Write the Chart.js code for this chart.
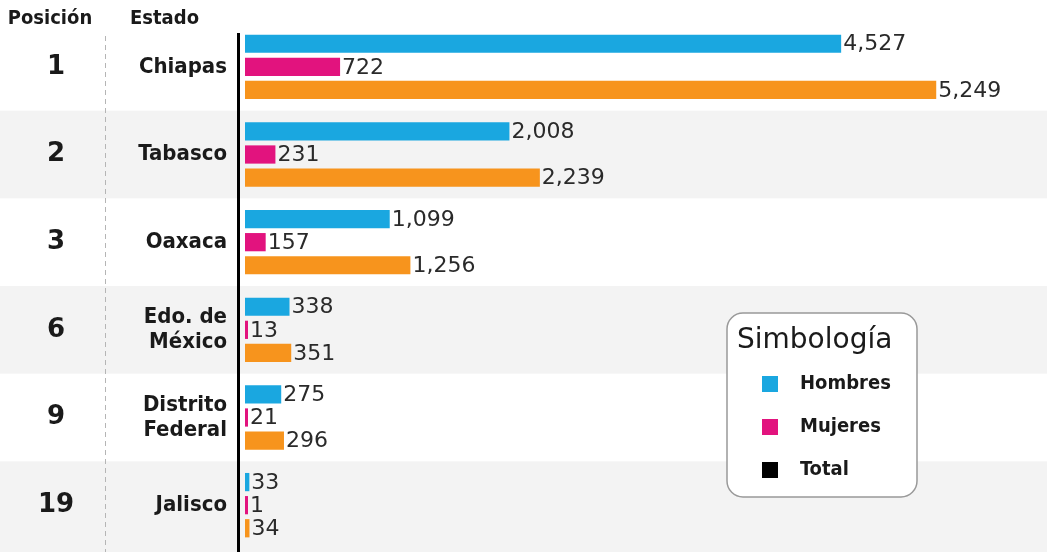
<!DOCTYPE html>
<html>
<head>
<meta charset="utf-8">
<script src="https://cdn.jsdelivr.net/npm/chart.js@4.4.0/dist/chart.umd.min.js"></script>
<style>
  html, body { margin: 0; padding: 0; background: #fff; }
  #wrap { width: 1047px; height: 552px; position: relative; }
</style>
</head>
<body>
<div id="wrap"><canvas id="chart" width="1047" height="552"></canvas></div>
<script>
// data
const positions = ['1', '2', '3', '6', '9', '19'];
const states = [['Chiapas'], ['Tabasco'], ['Oaxaca'], ['Edo. de', 'México'], ['Distrito', 'Federal'], ['Jalisco']];
const hombres = [4527, 2008, 1099, 338, 275, 33];
const mujeres = [722, 231, 157, 13, 21, 1];
const total = [5249, 2239, 1256, 351, 296, 34];
const legendItems = ['Hombres', 'Mujeres', 'Total'];
const legendColors = ['#1aa7e0', '#e2137e', '#000000'];

const BOLD_COND = '"DejaVu Sans Condensed", "Liberation Sans Narrow", sans-serif';

// striped row backgrounds, side columns, headers
const sidePlugin = {
    id: 'side',
    beforeDraw(chart) {
        const ctx = chart.ctx;
        const y = chart.scales.y;
        const n = positions.length;
        const step = (y.bottom - y.top) / n;
        ctx.save();
        for (let i = 0; i < n; i++) {
            if (i % 2 === 1) {
                ctx.fillStyle = '#f3f3f3';
                ctx.fillRect(0, y.top + i * step, chart.width, step);
            }
        }
        if (n % 2 === 0) {
            ctx.fillStyle = '#f3f3f3';
            ctx.fillRect(0, y.bottom, chart.width, chart.height - y.bottom);
        }
        // dashed separator
        ctx.strokeStyle = '#b5b5b5';
        ctx.lineWidth = 1;
        ctx.setLineDash([5, 4]);
        ctx.beginPath();
        ctx.moveTo(105.5, 36);
        ctx.lineTo(105.5, chart.height);
        ctx.stroke();
        ctx.setLineDash([]);
        // headers
        ctx.fillStyle = '#1a1a1a';
        ctx.textBaseline = 'middle';
        ctx.font = 'bold 20px ' + BOLD_COND;
        ctx.textAlign = 'center';
        ctx.fillText('Posición', 50, 19);
        ctx.textAlign = 'left';
        ctx.fillText('Estado', 130, 19);
        // row labels
        positions.forEach((p, i) => {
            const cy = y.getPixelForTick(i);
            ctx.font = 'bold 26px "DejaVu Sans", sans-serif';
            ctx.textAlign = 'center';
            ctx.fillText(p, 56, cy);
            ctx.font = 'bold 22px ' + BOLD_COND;
            ctx.textAlign = 'right';
            const lines = states[i];
            lines.forEach((l, k) => {
                ctx.fillText(l, 227, cy + (k - (lines.length - 1) / 2) * 25);
            });
        });
        ctx.restore();
    },
    afterDatasetsDraw(chart) {
        const ctx = chart.ctx;
        ctx.save();
        // axis line
        ctx.fillStyle = '#000';
        ctx.fillRect(237, 33, 3, chart.height - 33);
        // value labels
        ctx.fillStyle = '#2a2a2a';
        ctx.font = '22px "DejaVu Sans", sans-serif';
        ctx.textAlign = 'left';
        ctx.textBaseline = 'middle';
        chart.data.datasets.forEach((ds, di) => {
            chart.getDatasetMeta(di).data.forEach((bar, i) => {
                ctx.fillText(ds.data[i].toLocaleString('en-US'), bar.x + 2, bar.y + 1);
            });
        });
        // legend box
        const bx = 727, by = 313, bw = 190, bh = 184, r = 16;
        ctx.beginPath();
        ctx.roundRect(bx, by, bw, bh, r);
        ctx.fillStyle = '#fff';
        ctx.fill();
        ctx.strokeStyle = '#999';
        ctx.lineWidth = 1.5;
        ctx.stroke();
        ctx.fillStyle = '#1a1a1a';
        ctx.font = '28px "DejaVu Sans", sans-serif';
        ctx.fillText('Simbología', 737, 341);
        legendItems.forEach((t, k) => {
            const ly = 384 + k * 43;
            ctx.fillStyle = legendColors[k];
            ctx.fillRect(762, ly - 8, 16, 16);
            ctx.fillStyle = '#1a1a1a';
            ctx.font = 'bold 20px ' + BOLD_COND;
            ctx.fillText(t, 800, ly);
        });
        ctx.restore();
    }
};

const ctx = document.getElementById('chart').getContext('2d');
const chart = new Chart(ctx, {
    type: 'bar',
    data: {
        labels: positions,
        datasets: [
            { label: 'Hombres', data: hombres, backgroundColor: '#1aa7e0' },
            { label: 'Mujeres', data: mujeres, backgroundColor: '#e2137e' },
            { label: 'Total', data: total, backgroundColor: '#f7941d' }
        ]
    },
    options: {
        indexAxis: 'y',
        responsive: false,
        animation: false,
        layout: { padding: { left: 245, right: 7, top: 23, bottom: 3 } },
        datasets: { bar: { categoryPercentage: 0.79, barPercentage: 0.79, minBarLength: 3 } },
        scales: {
            x: { display: false, min: 0, max: 6037 },
            y: { display: false }
        },
        plugins: {
            legend: { display: false },
            tooltip: { enabled: false }
        }
    },
    plugins: [sidePlugin]
});
</script>
</body>
</html>
